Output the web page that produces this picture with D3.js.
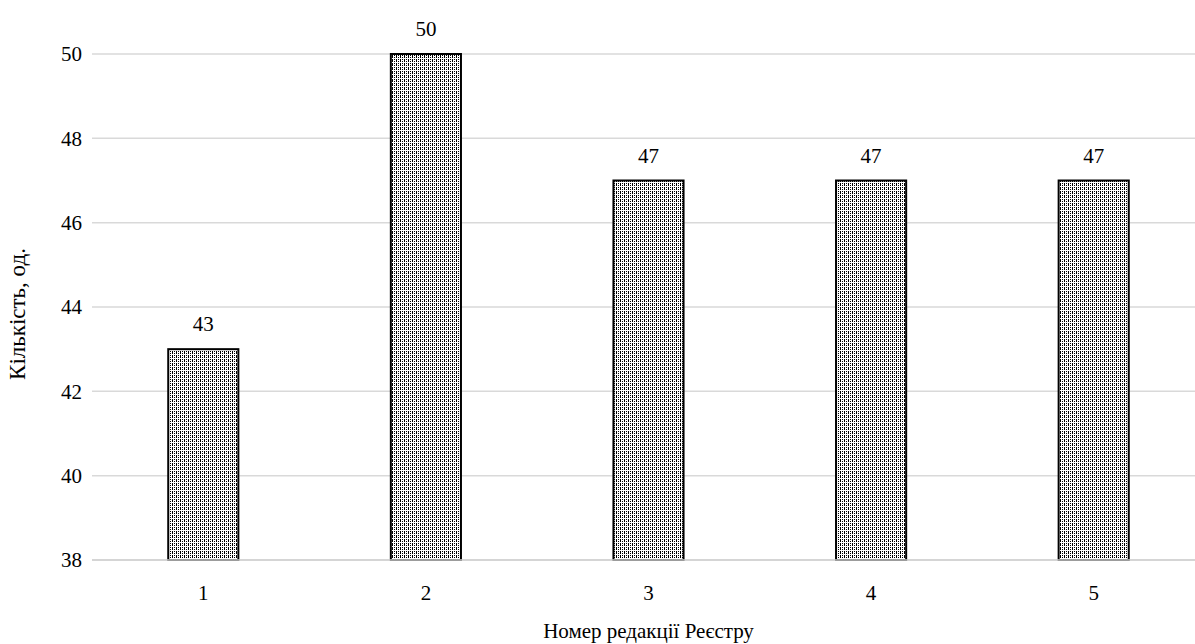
<!DOCTYPE html>
<html>
<head>
<meta charset="utf-8">
<script src="https://cdn.jsdelivr.net/npm/d3@7"></script>
<style>
  html, body { margin: 0; padding: 0; background: #fff; }
  #chart text { font-family: "Times New Roman", "Liberation Serif", serif; }
</style>
</head>
<body>
<svg id="chart" width="1195" height="644"></svg>
<script>
// Number of registry edition and count of items in it
const editions = ["1", "2", "3", "4", "5"];
const counts = [43, 50, 47, 47, 47];
const yTicks = [38, 40, 42, 44, 46, 48, 50];
const xTitle = "Номер редакції Реєстру";
const yTitle = "Кількість, од.";

const svg = d3.select("#chart");
const plotLeft = 92, plotRight = 1205, plotTop = 54, plotBottom = 560;
const fontSize = 21;

const x = d3.scaleBand().domain(editions).range([plotLeft, plotRight]).paddingInner(0.685).paddingOuter(0.3425);
const y = d3.scaleLinear().domain([38, 50]).range([plotBottom, plotTop]);

// Dotted fill pattern: vertical columns of dashes and dots
const defs = svg.append("defs");
const pat = defs.append("pattern")
  .attr("id", "dots").attr("patternUnits", "userSpaceOnUse")
  .attr("width", 4).attr("height", 4);
pat.append("rect").attr("width", 4).attr("height", 4).attr("fill", "#fff");
[[0,0,1,2],[0,3,1,1],[2,1,1,1],[2,3,1,1]].forEach(d => {
  pat.append("rect").attr("x", d[0]).attr("y", d[1]).attr("width", d[2]).attr("height", d[3]).attr("fill", "#000");
});

// Horizontal gridlines
svg.append("g").selectAll("line").data(yTicks).join("line")
  .attr("x1", plotLeft).attr("x2", plotRight)
  .attr("y1", d => y(d)).attr("y2", d => y(d))
  .attr("stroke", "#d9d9d9").attr("stroke-width", 1.5);

// Y tick labels
svg.append("g").selectAll("text").data(yTicks).join("text")
  .attr("x", 82).attr("y", d => y(d)).attr("dy", "0.35em")
  .attr("text-anchor", "end").attr("font-size", fontSize).attr("fill", "#000")
  .text(d => d);

// Bars
svg.append("g").selectAll("rect").data(counts).join("rect")
  .attr("x", (d, i) => x(editions[i]))
  .attr("y", d => y(d))
  .attr("width", x.bandwidth())
  .attr("height", d => y(38) - y(d))
  .attr("fill", "url(#dots)")
  .attr("stroke", "#000").attr("stroke-width", 2);

// Baseline
svg.append("line").attr("x1", plotLeft).attr("x2", plotRight)
  .attr("y1", y(38)).attr("y2", y(38))
  .attr("stroke", "#d0d0d0").attr("stroke-width", 1.5);

// Value labels
svg.append("g").selectAll("text").data(counts).join("text")
  .attr("x", (d, i) => x(editions[i]) + x.bandwidth() / 2)
  .attr("y", d => y(d) - 18)
  .attr("text-anchor", "middle").attr("font-size", fontSize).attr("fill", "#000")
  .text(d => d);

// X tick labels
svg.append("g").selectAll("text").data(editions).join("text")
  .attr("x", d => x(d) + x.bandwidth() / 2)
  .attr("y", 600)
  .attr("text-anchor", "middle").attr("font-size", fontSize).attr("fill", "#000")
  .text(d => d);

// Axis titles
svg.append("text").attr("x", (plotLeft + plotRight) / 2).attr("y", 638)
  .attr("text-anchor", "middle").attr("font-size", fontSize).text(xTitle);
svg.append("text").attr("transform", "translate(25,314) rotate(-90)")
  .attr("text-anchor", "middle").attr("font-size", 23).text(yTitle);
</script>
</body>
</html>
